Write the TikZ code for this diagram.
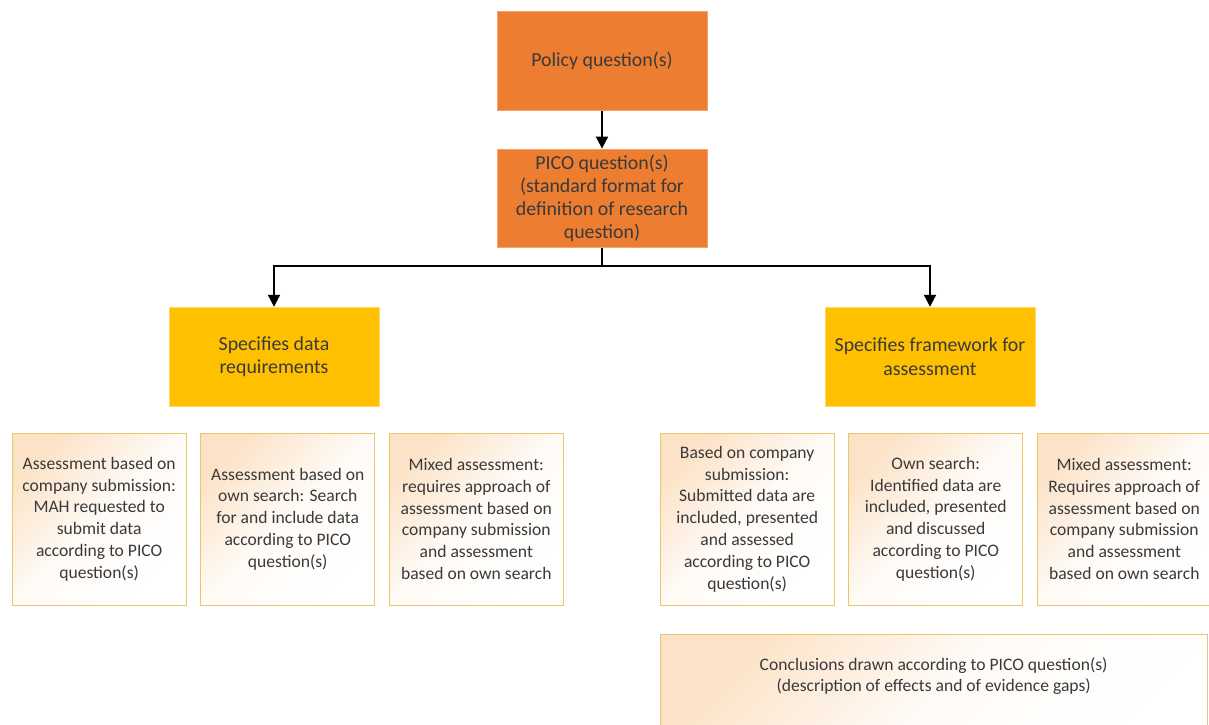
\documentclass[tikz,border=0pt]{standalone}
\usepackage{fontspec}
\setmainfont{Carlito}
\usepackage{xcolor}
\usepackage{tikz}
\usetikzlibrary{positioning,arrows.meta}
\definecolor{pcorange}{HTML}{ED7D31}
\definecolor{pcgold}{HTML}{FFC000}
\definecolor{pcedge}{HTML}{EAC56A}
\definecolor{pccream}{HTML}{FCE3C8}
\definecolor{pctext}{HTML}{3A3A3A}

\begin{document}
\begin{tikzpicture}[
  node distance=2.7mm,
  box/.style={align=center,text=pctext,inner sep=1mm},
  head/.style={box,fill=pcorange,draw=pcorange!70,thin,minimum width=42mm,minimum height=19.7mm,font=\fontsize{11.3}{13.2}\selectfont},
  spec/.style={box,fill=pcgold,draw=pcgold!60,thin,minimum width=42mm,minimum height=19.8mm,font=\fontsize{11.3}{13.2}\selectfont},
  leaf/.style={box,draw=pcedge,semithick,top color=pccream,bottom color=white,middle color=pccream!15!white,shading angle=45,minimum width=34.8mm,minimum height=34.4mm,font=\fontsize{10}{12.4}\selectfont},
  link/.style={line width=0.4mm},
  >={Triangle[length=2.4mm,width=2.4mm]}
]
\useasboundingbox (0,0) rectangle (241.8mm,-144.8mm);
\clip (0,0) rectangle (241.8mm,-144.8mm);
% --- question chain ---
\node[head] (policy) at (120.4mm,-12.2mm) {Policy question(s)};
\node[head,below=7.6mm of policy] (pico) {PICO question(s)\\(standard format for\\definition of research\\question)};
\draw[link,->] (policy) -- (pico);
% --- two branches ---
\node[spec,below=11.8mm of pico,xshift=-65.6mm] (dreq) {Specifies data\\requirements};
\node[spec,below=11.8mm of pico,xshift=65.6mm] (frame) {Specifies framework for\\assessment};
\coordinate[below=3.6mm of pico.south] (split);
\draw[link] (pico) -- (split);
\draw[link,->] (split) -| (dreq);
\draw[link,->] (split) -| (frame);
% --- data requirements ---
\node[leaf,below=5.2mm of dreq.south west,anchor=north west,xshift=-31.4mm] (a1) {Assessment based on\\company submission:\\MAH requested to\\submit data\\according to PICO\\question(s)};
\node[leaf,right=of a1] (a2) {Assessment based on\\own search: Search\\for and include data\\according to PICO\\question(s)};
\node[leaf,right=of a2] (a3) {Mixed assessment:\\requires approach of\\assessment based on\\company submission\\and assessment\\based on own search};
% --- framework ---
\node[leaf,below=5.2mm of frame.south west,anchor=north west,xshift=-33mm] (b1) {Based on company\\submission:\\Submitted data are\\included, presented\\and assessed\\according to PICO\\question(s)};
\node[leaf,right=of b1] (b2) {Own search:\\Identified data are\\included, presented\\and discussed\\according to PICO\\question(s)};
\node[leaf,right=of b2] (b3) {Mixed assessment:\\Requires approach of\\assessment based on\\company submission\\and assessment\\based on own search};
% conclusions box runs off the page
\node[leaf,below=5.6mm of b1.south west,anchor=north west,minimum width=109.4mm,minimum height=0pt,inner ysep=0pt] (concl) {\rule{0pt}{7.2mm}Conclusions drawn according to PICO question(s)\\(description of effects and of evidence gaps)\rule[-15.4mm]{0pt}{15.4mm}};
\end{tikzpicture}
\end{document}
